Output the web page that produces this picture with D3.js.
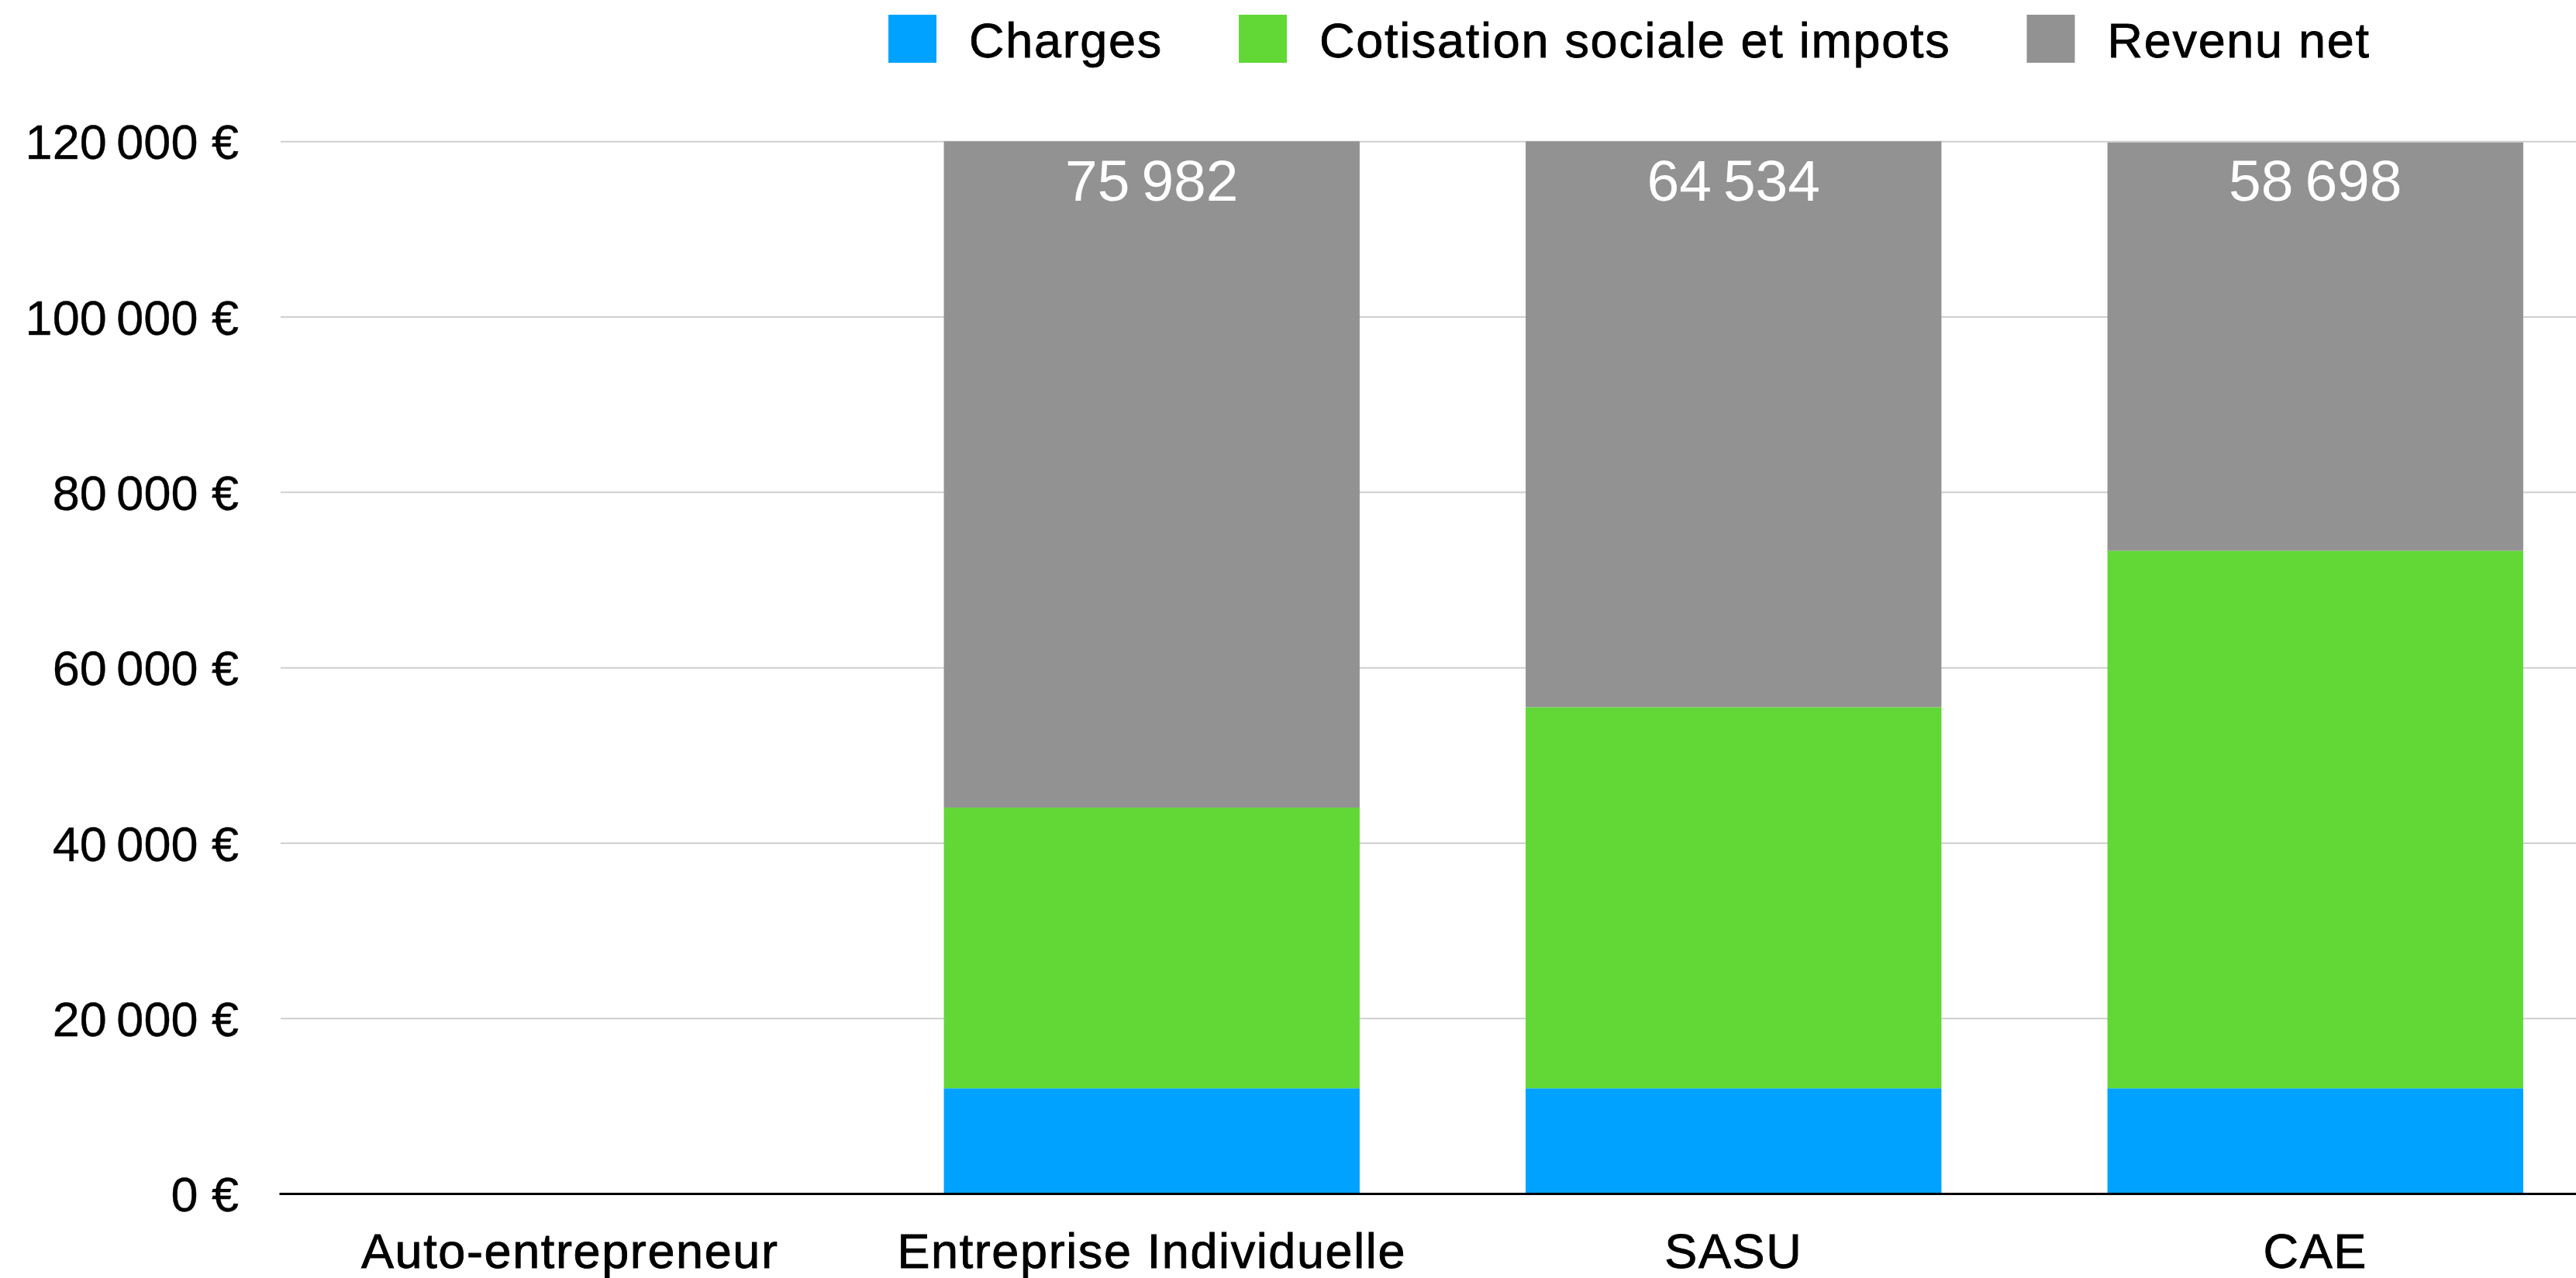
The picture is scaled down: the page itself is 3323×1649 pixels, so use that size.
<!DOCTYPE html>
<html>
<head>
<meta charset="utf-8">
<script src="https://cdn.jsdelivr.net/npm/d3@7"></script>
<style>
  html, body { margin: 0; padding: 0; background: #fff; }
  svg { display: block; font-family: "Liberation Sans", Arial, Helvetica, sans-serif; }
</style>
</head>
<body>
<svg id="chart"></svg>
<script>

var categories = ["Auto-entrepreneur", "Entreprise Individuelle", "SASU", "CAE"];
var seriesNames = ["Charges", "Cotisation sociale et impots", "Revenu net"];
var seriesColors = ["#00a2ff", "#61d836", "#929292"];

var charges = [0, 12000, 12000, 12000];
var cotisations = [0, 32018, 43466, 61302];
var revenuNet = [0, 75982, 64534, 46570];
// labels printed at the top of each bar
var revenuLabels = [null, 75982, 64534, 58698];

var yTicks = [0, 20000, 40000, 60000, 80000, 100000, 120000];

var chartWidth = 3323, chartHeight = 1649;
var plotLeft = 362, plotBottom = 1540, plotTop = 182.3;

var svg = d3.select("#chart").attr("width", chartWidth).attr("height", chartHeight);

var fr = d3.formatLocale({ decimal: ",", thousands: "\u2009", grouping: [3], currency: ["", "\u00a0€"] });
var euro = fr.format("$,.0f");
var num = fr.format(",.0f");

var x = d3.scaleBand()
          .domain(categories)
          .range([360, 3362])
          .paddingInner(0.2853)
          .paddingOuter(0.14265);

var y = d3.scaleLinear().domain([0, 120000]).range([plotBottom, plotTop]);

/* grid + y labels */
var yAxis = svg.append("g")
    .attr("transform", "translate(" + plotLeft + ",0)")
    .call(d3.axisLeft(y).tickValues(yTicks).tickFormat(euro)
            .tickSizeInner(-(chartWidth - plotLeft)).tickSizeOuter(0).tickPadding(54));
yAxis.select(".domain").remove();
yAxis.selectAll(".tick line").attr("stroke", "#cfcfcf").attr("stroke-width", 2);
yAxis.selectAll(".tick text")
     .attr("font-size", 63).attr("fill", "#000")
     .attr("font-family", "Liberation Sans, Arial, sans-serif")
     .attr("stroke", "#000").attr("stroke-width", 0.4)
     .attr("dy", "0.36em");

/* stacked bars */
var rows = categories.map(function(c, i) {
  return { cat: c, "Charges": charges[i], "Cotisation sociale et impots": cotisations[i], "Revenu net": revenuNet[i] };
});
var stacked = d3.stack().keys(seriesNames)(rows);

var layers = svg.append("g").selectAll("g")
    .data(stacked)
    .enter().append("g")
    .attr("fill", function(d, i) { return seriesColors[i]; });

layers.selectAll("rect")
    .data(function(d) { return d; })
    .enter().append("rect")
    .attr("x", function(d) { return x(d.data.cat); })
    .attr("width", x.bandwidth())
    .attr("y", function(d) { return y(d[1]); })
    .attr("height", function(d) { return Math.max(0, y(d[0]) - y(d[1])); });

/* x axis */
var xAxis = svg.append("g")
    .attr("transform", "translate(0," + plotBottom + ")")
    .call(d3.axisBottom(x).tickSize(0).tickPadding(51));
xAxis.select(".domain").attr("stroke", "#000").attr("stroke-width", 3);
xAxis.selectAll(".tick text")
     .attr("font-size", 63).attr("fill", "#000")
     .attr("font-family", "Liberation Sans, Arial, sans-serif")
     .attr("stroke", "#000").attr("stroke-width", 0.9)
     .attr("letter-spacing", 1.6);

/* value labels */
svg.append("g").selectAll("text")
    .data(categories.filter(function(c, i) { return revenuLabels[i] != null; }))
    .enter().append("text")
    .attr("x", function(c) { return x(c) + x.bandwidth() / 2; })
    .attr("y", plotTop + 77)
    .attr("text-anchor", "middle")
    .attr("font-size", 75)
    .attr("fill", "#fff")
    .text(function(c) { return num(revenuLabels[categories.indexOf(c)]); });

/* legend */
var legend = svg.append("g");
var lx = 1146;
seriesNames.forEach(function(name, i) {
  var item = legend.append("g").attr("transform", "translate(" + lx + ",0)");
  item.append("rect").attr("x", 0).attr("y", 19).attr("width", 62).attr("height", 62)
      .attr("fill", seriesColors[i]);
  var t = item.append("text").attr("x", 104).attr("y", 74)
      .attr("font-size", 63).attr("fill", "#000")
      .attr("stroke", "#000").attr("stroke-width", 0.8)
      .attr("letter-spacing", 1.7)
      .text(name);
  lx += 104 + t.node().getComputedTextLength() + 98;
});

</script>
</body>
</html>
